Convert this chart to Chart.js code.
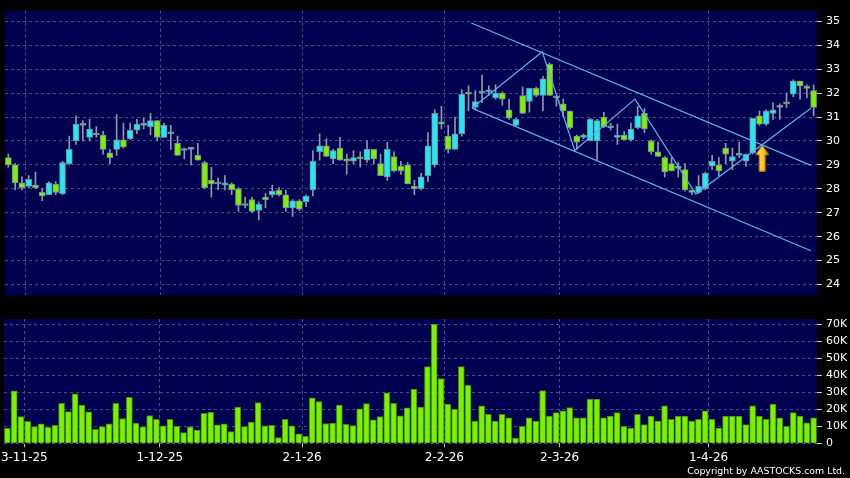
<!DOCTYPE html>
<html>
<head>
<meta charset="utf-8">
<script src="https://cdn.jsdelivr.net/npm/chart.js@4.4.1/dist/chart.umd.min.js"></script>
<style>
  html, body { margin: 0; padding: 0; background: #000; }
  #wrap { position: relative; width: 850px; height: 478px; overflow: hidden; background: #000; }
  #precio { position: absolute; left: 0; top: 0; }
  #volumen { position: absolute; left: 0; top: 306px; }
  #copy { position: absolute; right: 5px; top: 465px; color: #fff; font: 9.4px "DejaVu Sans", sans-serif; white-space: nowrap; }
</style>
</head>
<body>
<div id="wrap">
  <canvas id="precio" width="850" height="306" style="width:850px;height:306px"></canvas>
  <canvas id="volumen" width="850" height="172" style="width:850px;height:172px"></canvas>
  <div id="copy">Copyright by AASTOCKS.com Ltd.</div>
</div>
<script>
// datos (velas diarias)
const apertura = [29.30, 29.00, 28.25, 28.10, 28.15, 27.85, 27.75, 28.20, 27.80, 29.05,
  30.00, 30.65, 30.15, 30.30, 30.25, 29.50, 29.65, 30.05, 30.10, 30.45,
  30.65, 30.60, 30.85, 30.15, 30.30, 29.90, 29.60, 29.65, 29.40, 29.10,
  28.35, 28.20, 28.15, 28.20, 28.00, 27.30, 27.55, 27.10, 27.65, 27.75,
  27.95, 27.75, 27.20, 27.50, 27.45, 27.95, 29.55, 29.80, 29.25, 29.70,
  29.25, 29.15, 29.30, 29.20, 29.65, 29.05, 28.50, 29.35, 28.95, 29.00,
  28.10, 28.00, 28.55, 29.00, 30.80, 30.20, 29.65, 30.30, 32.00, 31.40,
  32.00, 32.05, 31.80, 32.00, 31.30, 30.65, 31.90, 31.65, 32.20, 31.90,
  33.20, 31.80, 31.55, 31.25, 30.20, 30.15, 30.00, 30.00, 31.00, 30.55,
  30.15, 30.25, 30.05, 30.55, 31.15, 30.00, 29.55, 29.30, 29.05, 28.85,
  28.80, 27.90, 27.85, 28.00, 28.95, 29.00, 29.70, 29.15, 29.40, 29.15,
  29.50, 31.05, 30.70, 31.15, 31.40, 31.55, 31.95, 32.50, 32.25, 32.10];
const maximo = [29.45, 29.05, 28.50, 28.55, 28.70, 28.00, 28.30, 28.30, 29.15, 30.20,
  31.05, 30.85, 30.90, 30.60, 30.40, 29.65, 31.10, 30.75, 30.75, 30.90,
  30.95, 31.15, 30.85, 30.75, 30.65, 30.20, 29.70, 29.70, 29.90, 29.15,
  28.90, 28.45, 28.55, 28.25, 28.05, 27.65, 27.65, 27.45, 27.80, 28.15,
  28.05, 27.95, 27.55, 27.55, 27.75, 29.60, 30.30, 30.10, 29.65, 30.15,
  29.45, 29.60, 29.55, 30.00, 29.65, 29.45, 29.95, 29.55, 29.15, 29.10,
  28.35, 28.65, 30.35, 31.30, 31.45, 30.65, 31.00, 32.15, 32.30, 32.10,
  32.75, 32.30, 32.35, 32.05, 31.75, 30.95, 32.25, 32.20, 32.25, 32.70,
  33.25, 31.85, 31.75, 31.25, 30.25, 30.30, 30.95, 30.90, 31.20, 30.75,
  30.70, 30.40, 30.75, 31.45, 31.35, 30.05, 29.95, 29.35, 29.30, 29.10,
  29.05, 27.95, 28.55, 28.70, 29.40, 29.30, 29.90, 29.70, 29.95, 29.45,
  30.95, 31.25, 31.30, 31.60, 31.55, 32.00, 32.55, 32.50, 32.35, 32.35];
const minimo = [28.90, 27.95, 27.95, 28.05, 28.00, 27.50, 27.75, 27.75, 27.75, 29.00,
  29.85, 30.00, 30.00, 30.15, 29.45, 29.05, 29.40, 29.70, 30.05, 30.30,
  30.50, 30.25, 30.00, 30.15, 29.65, 29.40, 29.25, 29.00, 29.20, 28.00,
  27.65, 27.95, 27.95, 27.75, 27.05, 27.20, 27.00, 26.70, 27.20, 27.65,
  27.70, 27.05, 26.85, 27.10, 27.25, 27.70, 29.20, 29.35, 29.05, 29.20,
  28.60, 29.05, 28.90, 29.10, 29.05, 28.55, 28.35, 28.70, 28.60, 28.20,
  27.75, 27.95, 28.30, 28.90, 30.50, 29.50, 29.65, 30.20, 31.25, 31.30,
  31.60, 31.90, 31.75, 31.50, 30.90, 30.60, 31.15, 31.20, 31.85, 31.25,
  31.90, 31.45, 31.00, 30.50, 29.65, 30.10, 30.00, 29.20, 30.55, 30.45,
  29.85, 30.05, 30.00, 30.50, 30.35, 29.45, 29.35, 28.50, 28.75, 28.50,
  27.90, 27.75, 27.80, 27.95, 28.80, 28.55, 29.05, 28.80, 29.30, 28.95,
  29.45, 30.65, 30.65, 30.90, 30.90, 31.40, 31.85, 31.75, 31.80, 31.05];
const cierre = [29.00, 28.25, 28.05, 28.40, 28.05, 27.70, 28.25, 27.85, 29.10, 29.65,
  30.70, 30.65, 30.50, 30.25, 29.65, 29.30, 30.05, 29.75, 30.45, 30.70,
  30.70, 30.85, 30.15, 30.65, 30.35, 29.40, 29.60, 29.65, 29.20, 28.05,
  28.20, 28.20, 28.25, 27.95, 27.30, 27.35, 27.05, 27.35, 27.55, 27.90,
  27.75, 27.20, 27.50, 27.15, 27.70, 29.15, 29.80, 29.35, 29.60, 29.20,
  29.15, 29.30, 29.25, 29.65, 29.25, 28.55, 29.65, 28.75, 28.75, 28.20,
  28.00, 28.50, 29.80, 31.15, 30.70, 29.65, 30.30, 31.95, 31.95, 31.65,
  32.05, 32.10, 32.00, 31.75, 30.95, 30.90, 31.15, 32.20, 31.90, 32.60,
  31.90, 31.80, 31.25, 30.55, 29.95, 30.25, 30.90, 30.85, 30.60, 30.60,
  30.25, 30.05, 30.50, 31.05, 30.50, 29.55, 29.35, 28.70, 28.75, 28.95,
  27.95, 27.85, 28.10, 28.65, 29.15, 28.75, 29.45, 29.35, 29.40, 29.45,
  30.95, 30.70, 31.25, 31.30, 31.40, 31.55, 32.50, 32.30, 32.20, 31.40];
const volumen = [8800, 30800, 15700, 12900, 9800, 11400, 9400, 10600, 23500, 18600,
  29000, 22400, 18400, 8200, 9800, 11400, 23500, 14500, 27000, 11800,
  9600, 16300, 14100, 10200, 14100, 10000, 6300, 9600, 7800, 17600,
  18200, 10800, 11400, 6900, 21200, 9800, 12500, 23900, 10200, 10600,
  3300, 14100, 10200, 5500, 4100, 26700, 24500, 11600, 11800, 22400,
  11200, 10400, 20200, 23300, 13700, 15700, 29600, 23500, 16100, 20800,
  31800, 21200, 45000, 70000, 38000, 23000, 20000, 45000, 34000, 13000,
  22000, 17000, 13000, 17000, 15000, 3000, 10000, 15000, 13000, 31000,
  16000, 18000, 19000, 21000, 15000, 15000, 26000, 26000, 15000, 16000,
  18000, 10000, 9000, 17000, 11000, 16000, 13000, 22000, 14000, 16000,
  16000, 13000, 14000, 19000, 14000, 9000, 16000, 16000, 16000, 11000,
  22000, 16000, 14000, 23000, 15000, 10000, 18000, 16000, 12000, 15000];

const fechas = ['3-11-25', '1-12-25', '2-1-26', '2-2-26', '2-3-26', '1-4-26'];
const posFechas = [2.5, 22.5, 43.5, 64.5, 81.5, 103.5];
const ticksPrecio = [24, 25, 26, 27, 28, 29, 30, 31, 32, 33, 34, 35];
const ticksVolumen = [0, 10000, 20000, 30000, 40000, 50000, 60000, 70000];

// lineas de tendencia dibujadas en el grafico (indice de vela, precio)
const canalSup = [{x: 68.4, y: 34.93}, {x: 118.6, y: 28.98}];
const canalInf = [{x: 68.5, y: 31.37}, {x: 118.6, y: 25.41}];
const zigzag = [{x: 68.5, y: 31.37}, {x: 78.9, y: 33.73}, {x: 83.7, y: 29.60},
  {x: 92.6, y: 31.75}, {x: 101.6, y: 27.78}, {x: 118.6, y: 31.37}];
const flecha = [{x: 111.4, y: 29.28}];

const AZUL = '#000050';
const REJILLA = '#4c4c88';
const LINEA = '#5ab2ee';
const fuenteEje = { family: 'DejaVu Sans', size: 11 };

const colorVela = cierre.map((c, i) => {
  if (Math.abs(c - apertura[i]) < 0.03) return '#9aa3ad';
  return c > apertura[i] ? '#22e8f4' : '#80f000';
});

// pinta el fondo azul del area de dibujo
const fondo = {
  id: 'fondo',
  beforeDraw(chart) {
    const { ctx, chartArea: a } = chart;
    ctx.save();
    ctx.fillStyle = AZUL;
    ctx.fillRect(a.left, a.top, a.right - a.left, a.bottom - a.top);
    ctx.restore();
  }
};

function dibujarFlecha() {
  const c = document.createElement('canvas');
  c.width = 14; c.height = 27;
  const g = c.getContext('2d');
  g.beginPath();
  g.moveTo(7, 0.5); g.lineTo(13.5, 10); g.lineTo(10, 10); g.lineTo(10, 26.5);
  g.lineTo(4, 26.5); g.lineTo(4, 10); g.lineTo(0.5, 10); g.closePath();
  const grad = g.createLinearGradient(0, 0, 14, 0);
  grad.addColorStop(0, '#ffe98a'); grad.addColorStop(0.5, '#ffcc22'); grad.addColorStop(1, '#e89400');
  g.fillStyle = grad; g.fill();
  g.strokeStyle = '#b87400'; g.lineWidth = 1; g.stroke();
  return c;
}

const ejeX = (conEtiquetas) => ({
  type: 'linear',
  min: -0.5,
  max: 119.5,
  offset: false,
  afterBuildTicks: (axis) => { axis.ticks = posFechas.map(v => ({ value: v })); },
  afterFit: (axis) => {
    axis.paddingLeft = 0; axis.paddingRight = 0;
    axis.height = conEtiquetas ? 30 : 0;
  },
  grid: { offset: false, color: REJILLA, drawTicks: conEtiquetas, tickLength: 4, tickColor: '#bbbbbb' },
  border: { display: false, dash: [3, 3] },
  ticks: {
    display: conEtiquetas, color: '#ffffff', padding: 3, maxRotation: 0, autoSkip: false,
    font: { family: 'DejaVu Sans', size: 12 },
    callback: (v, i) => fechas[i]
  }
});

new Chart(document.getElementById('precio'), {
  type: 'bar',
  data: {
    datasets: [
      { type: 'line', data: canalSup, borderColor: LINEA, borderWidth: 1.2, pointRadius: 0, order: 0 },
      { type: 'line', data: canalInf, borderColor: LINEA, borderWidth: 1.2, pointRadius: 0, order: 0 },
      { type: 'line', data: zigzag, borderColor: LINEA, borderWidth: 1.2, pointRadius: 0, order: 0 },
      { type: 'scatter', data: flecha, pointStyle: dibujarFlecha(), order: 0 },
      {
        data: apertura.map((o, i) => ({ x: i, y: [o, cierre[i]] })),
        backgroundColor: colorVela, borderColor: '#70909c', borderWidth: 1,
        borderSkipped: false, barThickness: 6, minBarLength: 2, grouped: false, order: 1
      },
      {
        data: minimo.map((l, i) => ({ x: i, y: [l, maximo[i]] })),
        backgroundColor: '#8f97a8', borderWidth: 0, barThickness: 1, grouped: false, order: 2
      }
    ]
  },
  options: {
    responsive: false,
    animation: false,
    events: [],
    layout: { padding: { left: 4, top: 5, bottom: 1, right: 0 } },
    plugins: { legend: { display: false }, tooltip: { enabled: false } },
    scales: {
      x: ejeX(false),
      y: {
        position: 'right',
        min: 23.544,
        max: 35.448,
        afterBuildTicks: (axis) => { axis.ticks = ticksPrecio.map(v => ({ value: v })); },
        afterFit: (axis) => { axis.width = 33; },
        grid: { color: REJILLA, tickLength: 5, tickColor: '#cccccc' },
        border: { display: false, dash: [3, 3] },
        ticks: { color: '#ffffff', padding: 4, font: fuenteEje, callback: v => String(v) }
      }
    }
  },
  plugins: [fondo]
});

new Chart(document.getElementById('volumen'), {
  type: 'bar',
  data: {
    datasets: [{
      data: volumen.map((v, i) => ({ x: i, y: v })),
      backgroundColor: '#7cf000', borderColor: '#3e8e00', borderWidth: 1,
      barThickness: 6
    }]
  },
  options: {
    responsive: false,
    animation: false,
    events: [],
    layout: { padding: { left: 4, top: 13, bottom: 4.7, right: 0 } },
    plugins: { legend: { display: false }, tooltip: { enabled: false } },
    scales: {
      x: ejeX(true),
      y: {
        position: 'right',
        min: 0,
        max: 72934,
        afterBuildTicks: (axis) => { axis.ticks = ticksVolumen.map(v => ({ value: v })); },
        afterFit: (axis) => { axis.width = 33; },
        grid: { color: REJILLA, tickLength: 5, tickColor: '#cccccc' },
        border: { display: false, dash: [3, 3] },
        ticks: { color: '#ffffff', padding: 4, font: fuenteEje, callback: v => v === 0 ? '0' : (v / 1000) + 'K' }
      }
    }
  },
  plugins: [fondo]
});
</script>
</body>
</html>
